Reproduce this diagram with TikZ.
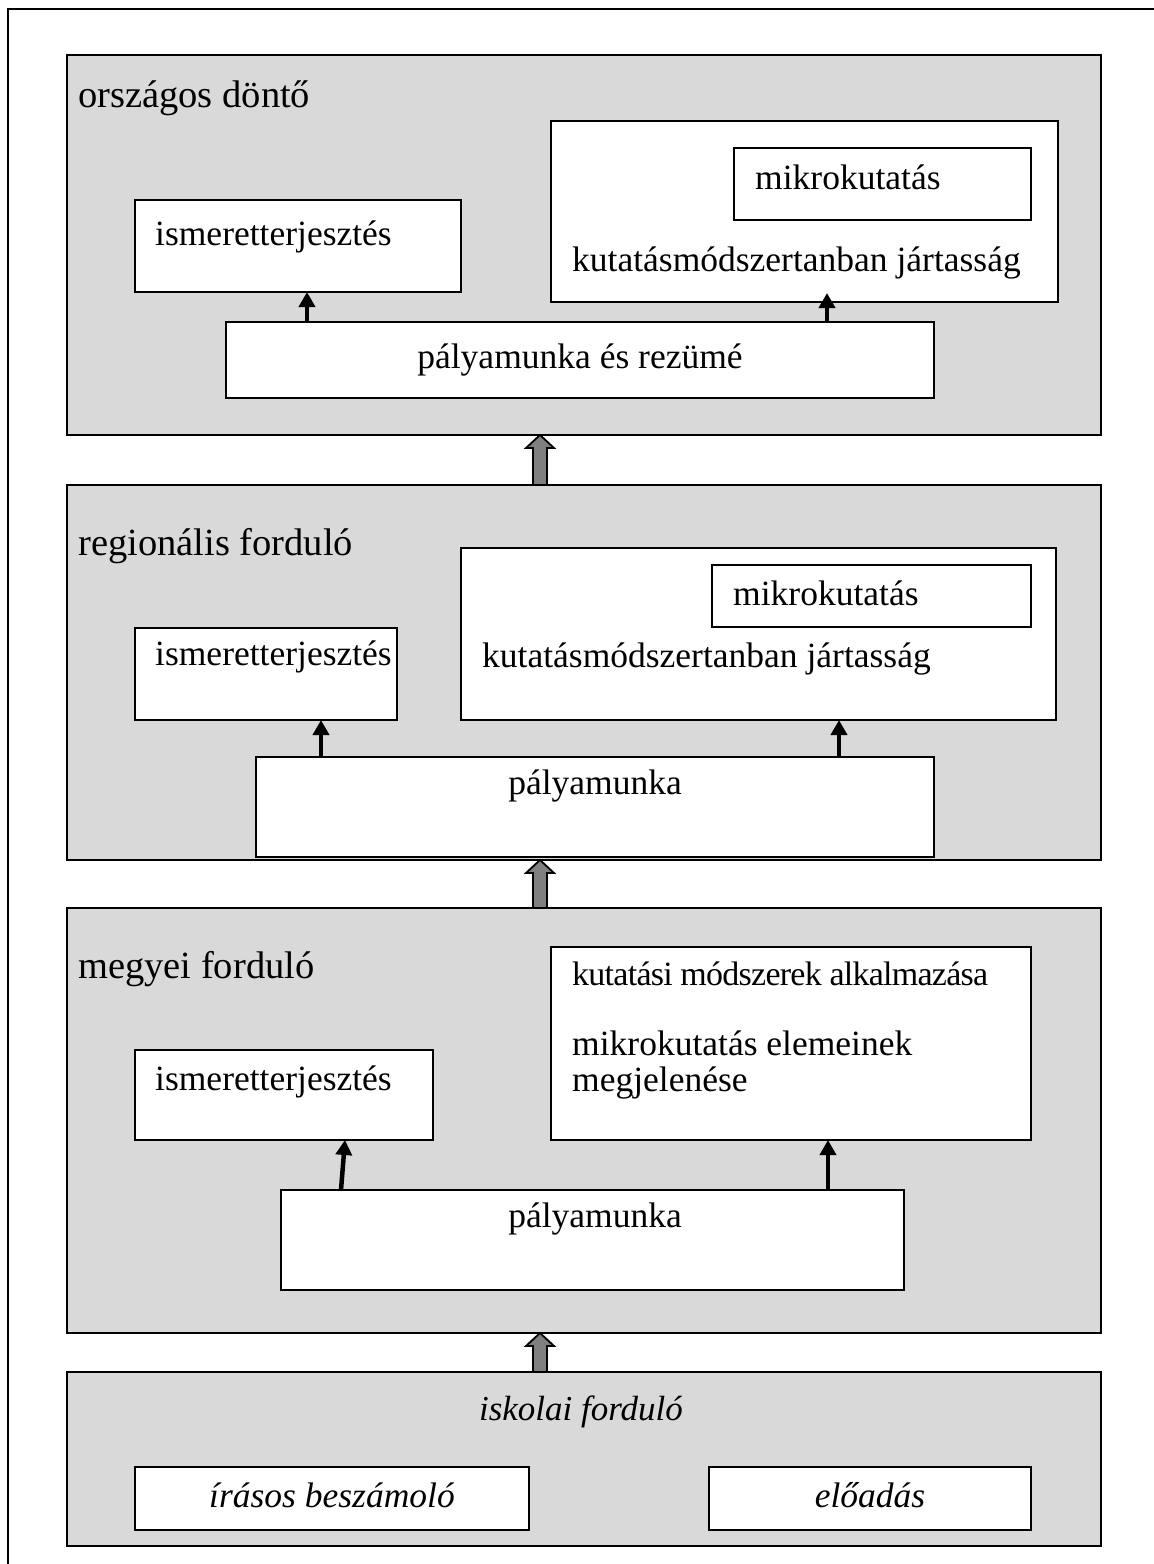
\documentclass[tikz,border=0pt]{standalone}
\usepackage{fontspec}
\setmainfont{Liberation Serif}
\usetikzlibrary{arrows.meta,calc}
\definecolor{panelgray}{HTML}{D9D9D9}
\definecolor{arrowgray}{HTML}{808080}
\begin{document}
\begin{tikzpicture}[x=1pt,y=-1pt,
  panel/.style={draw=black,line width=2.5pt,fill=panelgray,inner sep=0pt,outer sep=0pt,anchor=north west},
  box/.style={draw=black,line width=2pt,fill=white,inner sep=0pt,outer sep=0pt,anchor=north west},
  txt/.style={inner sep=0pt,anchor=base west,font=\fontsize{35.5}{40}\selectfont},
  ctxt/.style={inner sep=0pt,anchor=base,font=\fontsize{35.5}{40}\selectfont},
  title/.style={inner sep=0pt,anchor=base west,font=\fontsize{38.5}{44}\selectfont},
  conn/.style={line width=4.5pt,-{Triangle[length=15pt,width=16pt]}},
  blockarrow/.style={draw=black,line width=1.8pt,fill=arrowgray,line join=miter}
]
\useasboundingbox (0,0) rectangle (1154,1564);

% outer frame
\draw[line width=2.5pt] (1154,9) -- (8,9) -- (8,1564);

% ---------- országos döntő ----------
\node[panel,minimum width=1034,minimum height=380] (pan1) at (67,55) {};
\node[title] (ti1) at (78,107) {országos döntő};
\node[box,minimum width=326,minimum height=92] (is1) at (135,200) {};
\node[txt] (is1t) at (155,245) {ismeretterjesztés};
\node[box,minimum width=507,minimum height=181] (ku1) at (551,121) {};
\node[box,minimum width=297,minimum height=72] (mk1) at (734,148) {};
\node[txt] (mk1t) at (755,189) {mikrokutatás};
\node[txt] (ku1t) at (572,271) {kutatásmódszertanban jártasság};
\node[box,minimum width=708,minimum height=76] (pm1) at (226,322) {};
\node[ctxt] (pm1t) at (580,368) {pályamunka és rezümé};
\draw[conn] (307,0 |- pm1.north) -- (307,0 |- is1.south);
\draw[conn] (827,0 |- pm1.north) -- ($(827,0 |- ku1.south)+(0,-9)$);

% ---------- regionális forduló ----------
\node[panel,minimum width=1034,minimum height=375] (pan2) at (67,485) {};
\node[title] (ti2) at (78,555) {regionális forduló};
\node[box,minimum width=262,minimum height=92] (is2) at (135,628) {};
\node[txt] (is2t) at (155,665) {ismeretterjesztés};
\node[box,minimum width=595,minimum height=172] (ku2) at (461,548) {};
\node[box,minimum width=319,minimum height=62] (mk2) at (712,565) {};
\node[txt] (mk2t) at (733,605) {mikrokutatás};
\node[txt] (ku2t) at (482,667) {kutatásmódszertanban jártasság};
\node[box,minimum width=678,minimum height=100] (pm2) at (256,757) {};
\node[ctxt] (pm2t) at (595,794) {pályamunka};
\draw[conn] (321,0 |- pm2.north) -- (321,0 |- is2.south);
\draw[conn] (839,0 |- pm2.north) -- (839,0 |- ku2.south);

% ---------- megyei forduló ----------
\node[panel,minimum width=1034,minimum height=425] (pan3) at (67,908) {};
\node[title] (ti3) at (78,978) {megyei forduló};
\node[box,minimum width=298,minimum height=90] (is3) at (135,1050) {};
\node[txt] (is3t) at (155,1090) {ismeretterjesztés};
\node[box,minimum width=480,minimum height=193] (ku3) at (551,947) {};
\node[txt,font=\fontsize{34}{40}\selectfont] (ku3a) at (572,985)
  {\addfontfeature{LetterSpace=-2.2}kutatási módszerek alkalmazása};
\node[txt] (ku3b) at (572,1055) {mikrokutatás elemeinek};
\node[txt] (ku3c) at (572,1091) {megjelenése};
\node[box,minimum width=623,minimum height=100] (pm3) at (281,1190) {};
\node[ctxt] (pm3t) at (595,1227) {pályamunka};
\draw[conn] (341,0 |- pm3.north) -- (345,0 |- is3.south);
\draw[conn] (828,0 |- pm3.north) -- (828,0 |- ku3.south);

% ---------- iskolai forduló ----------
\node[panel,minimum width=1034,minimum height=174] (pan4) at (67,1372) {};
\node[ctxt,font=\fontsize{35}{40}\selectfont\itshape] (ti4) at (581,1420) {iskolai forduló};
\node[box,minimum width=394,minimum height=63] (ir4) at (135,1467) {};
\node[ctxt,font=\fontsize{35.5}{40}\selectfont\itshape] (ir4t) at (332,1507) {írásos beszámoló};
\node[box,minimum width=322,minimum height=63] (el4) at (709,1467) {};
\node[ctxt,font=\fontsize{35.5}{40}\selectfont\itshape] (el4t) at (870,1507) {előadás};

% ---------- block arrows between the rounds ----------
\foreach \lo/\hi in {pan2/pan1,pan3/pan2,pan4/pan3}{
  \coordinate (tip) at (540,0 |- \hi.south);
  \coordinate (foot) at (540,0 |- \lo.north);
  \draw[blockarrow] (tip) -- ++(14,13) -- ++(-7,0) -- ($(foot)+(7,0)$)
    -- ($(foot)+(-7,0)$) -- ($(tip)+(-7,13)$) -- ($(tip)+(-14,13)$) -- cycle;
}
\end{tikzpicture}
\end{document}
